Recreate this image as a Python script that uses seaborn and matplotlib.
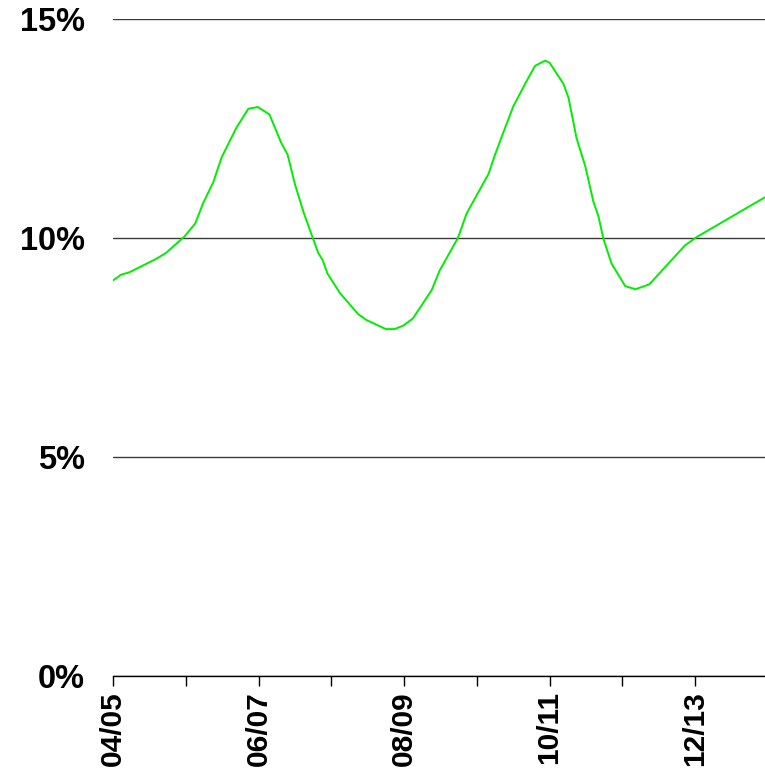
import matplotlib
matplotlib.use('Agg')
import matplotlib.pyplot as plt
import pandas as pd
import seaborn as sns

# years since 04/05 (fractional) and rate in percent
period = [0.00, 0.11, 0.23, 0.59, 0.73, 0.98, 1.05, 1.13, 1.24, 1.38,
          1.49, 1.69, 1.86, 1.99, 2.15, 2.31, 2.40, 2.50, 2.62, 2.75,
          2.82, 2.88, 2.95, 3.12, 3.37, 3.48, 3.75, 3.87, 3.99, 4.12,
          4.38, 4.49, 4.74, 4.86, 5.00, 5.16, 5.25, 5.36, 5.50, 5.68,
          5.80, 5.94, 6.00, 6.19, 6.26, 6.37, 6.49, 6.60, 6.67, 6.74,
          6.85, 7.04, 7.18, 7.37, 7.86, 8.02, 8.96]
rate = [9.03, 9.16, 9.22, 9.52, 9.66, 10.03, 10.17, 10.33, 10.80, 11.28,
        11.83, 12.50, 12.95, 12.99, 12.82, 12.18, 11.90, 11.23, 10.58, 9.98,
        9.66, 9.50, 9.18, 8.74, 8.26, 8.13, 7.92, 7.92, 8.00, 8.16,
        8.81, 9.26, 10.00, 10.56, 10.98, 11.46, 11.90, 12.39, 13.00, 13.57,
        13.93, 14.05, 14.00, 13.52, 13.20, 12.28, 11.64, 10.84, 10.50, 9.98,
        9.42, 8.90, 8.83, 8.94, 9.83, 10.02, 10.93]

tick_pos = [0, 1, 2, 3, 4, 5, 6, 7, 8]
tick_labels = ['04/05', '', '06/07', '', '08/09', '', '10/11', '', '12/13']
y_ticks = [0, 5, 10, 15]
y_labels = ['0%', '5%', '10%', '15%']

sns.set_style('white')
plt.rcParams['font.family'] = ['Liberation Sans', 'DejaVu Sans']

df = pd.DataFrame({'period': period, 'rate': rate})

fig = plt.figure(figsize=(7.65, 7.74), dpi=100)
ax = fig.add_axes([0.1477, 0.1266, 0.8523, 0.8489])

sns.lineplot(data=df, x='period', y='rate', ax=ax, color='#00ee00',
             linewidth=1.4, zorder=3)

ax.set_xlim(0, 8.96)
ax.set_ylim(0, 15)
ax.set_yticks(y_ticks)
ax.set_yticklabels(y_labels, fontsize=23.5, fontweight='bold', color='black')
ax.set_xticks(tick_pos)
ax.set_xticklabels(tick_labels, fontsize=21.5, fontweight='bold',
                   rotation=90, color='black')
ax.grid(axis='y', color='#3a3a3a', linewidth=1)
ax.grid(axis='x', visible=False)

for side in ['top', 'right', 'left']:
    ax.spines[side].set_visible(False)
ax.spines['bottom'].set_color('black')
ax.spines['bottom'].set_linewidth(1)

ax.tick_params(axis='y', length=0, pad=20)
ax.tick_params(axis='x', length=7, width=1, color='black', pad=4,
               bottom=True)
ax.set_xlabel('')
ax.set_ylabel('')

fig.savefig('out.png', dpi=100)
